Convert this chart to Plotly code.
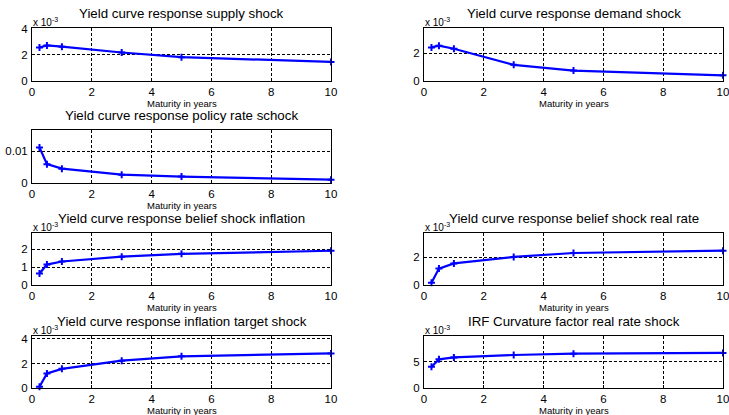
import plotly.graph_objects as go

W, H = 729, 415

maturity = [0.25, 0.5, 1, 3, 5, 10]

supply_shock = [2.56e-3, 2.72e-3, 2.62e-3, 2.18e-3, 1.82e-3, 1.46e-3]
demand_shock = [2.41e-3, 2.53e-3, 2.31e-3, 1.16e-3, 0.75e-3, 0.41e-3]
policy_rate_shock = [0.0111, 0.0059, 0.0045, 0.0026, 0.0020, 0.00105]
belief_inflation = [0.64e-3, 1.14e-3, 1.31e-3, 1.58e-3, 1.74e-3, 1.91e-3]
belief_real_rate = [0.16e-3, 1.18e-3, 1.55e-3, 2.02e-3, 2.30e-3, 2.47e-3]
inflation_target = [0.10e-3, 1.18e-3, 1.56e-3, 2.23e-3, 2.58e-3, 2.82e-3]
curvature_real_rate = [4.04e-3, 5.45e-3, 5.83e-3, 6.28e-3, 6.54e-3, 6.67e-3]

titles = [
    "Yield curve response supply shock",
    "Yield curve response demand shock",
    "Yield curve response policy rate schock",
    "Yield curve response belief shock inflation",
    "Yield curve response belief shock real rate",
    "Yield curve response inflation target shock",
    "IRF Curvature factor real rate shock",
]
series = [supply_shock, demand_shock, policy_rate_shock, belief_inflation,
          belief_real_rate, inflation_target, curvature_real_rate]
y_tickvals = [[0, 2e-3, 4e-3], [0, 2e-3], [0, 0.01], [0, 1e-3, 2e-3],
              [0, 2e-3], [0, 2e-3, 4e-3], [0, 5e-3]]
y_ticktext = [["0", "2", "4"], ["0", "2"], ["0", "0.01"], ["0", "1", "2"],
              ["0", "2"], ["0", "2", "4"], ["0", "5"]]
y_tops = [4.05e-3, 3.8e-3, 0.0166, 2.9e-3, 3.74e-3, 4.24e-3, 9.9e-3]
has_mult = [True, True, False, True, True, True, True]
x_ticks = [0, 2, 4, 6, 8, 10]
x_label = "Maturity in years"

# pixel layout (left, right, top, bottom)
cols = [(32, 331), (424, 723)]
rows = [(28, 81), (130, 183), (233, 285), (336, 388)]
positions = [(0, 0), (1, 0), (0, 1), (0, 2), (1, 2), (0, 3), (1, 3)]

FONT = "Liberation Sans, Arial, sans-serif"
fig = go.Figure()
annotations = []

for i, (vals, title) in enumerate(zip(series, titles)):
    c, r = positions[i]
    x0, x1 = cols[c]
    t, b = rows[r]
    n = "" if i == 0 else str(i + 1)
    xa, ya = "x" + n, "y" + n
    fig.add_trace(go.Scatter(
        x=maturity, y=vals, mode="lines+markers", xaxis=xa, yaxis=ya,
        line=dict(color="#0000ff", width=2.2),
        marker=dict(symbol="cross-thin", size=5, color="#0000ff",
                    line=dict(color="#0000ff", width=2)),
        showlegend=False, hoverinfo="skip", cliponaxis=False))
    common = dict(showline=True, linecolor="black", linewidth=1, mirror=True,
                  ticks="inside", ticklen=3, tickcolor="black",
                  showgrid=True, gridcolor="black", gridwidth=1,
                  griddash="3px,2px", zeroline=False, automargin=False,
                  tickfont=dict(family=FONT, size=11.5, color="black"))
    fig.layout["xaxis" + n] = dict(
        domain=[x0 / W, x1 / W], range=[0, 10], tickvals=x_ticks,
        anchor=ya, ticklabelstandoff=0, ticklabeloverflow="allow", **common)
    fig.layout["yaxis" + n] = dict(
        domain=[1 - b / H, 1 - t / H], range=[0, y_tops[i]],
        tickvals=y_tickvals[i], ticktext=y_ticktext[i], anchor=xa,
        ticklabelstandoff=1, ticklabeloverflow="allow", **common)
    annotations.append(dict(
        text=title, x=(x0 + x1) / 2 / W, y=1 - (t - 5) / H, xref="paper",
        yref="paper", xanchor="center", yanchor="bottom", showarrow=False,
        font=dict(family=FONT, size=13.3, color="black")))
    annotations.append(dict(
        text=x_label, x=(x0 + x1) / 2 / W, y=1 - (b + 15) / H, xref="paper",
        yref="paper", xanchor="center", yanchor="top", showarrow=False,
        font=dict(family=FONT, size=9.5, color="black")))
    if has_mult[i]:
        annotations.append(dict(
            text="x 10<sup>-3</sup>", x=(x0 - 1) / W, y=1 - (t + 2) / H,
            xref="paper", yref="paper", xanchor="left", yanchor="bottom",
            showarrow=False,
            font=dict(family=FONT, size=10, color="black")))

fig.update_layout(width=W, height=H, margin=dict(l=0, r=0, t=0, b=0, pad=0),
                  paper_bgcolor="white", plot_bgcolor="white",
                  annotations=annotations)
fig.write_html("out.html", config={"displayModeBar": False},
               post_script="document.body.style.margin='0';"
                           "document.body.style.overflow='hidden';")
